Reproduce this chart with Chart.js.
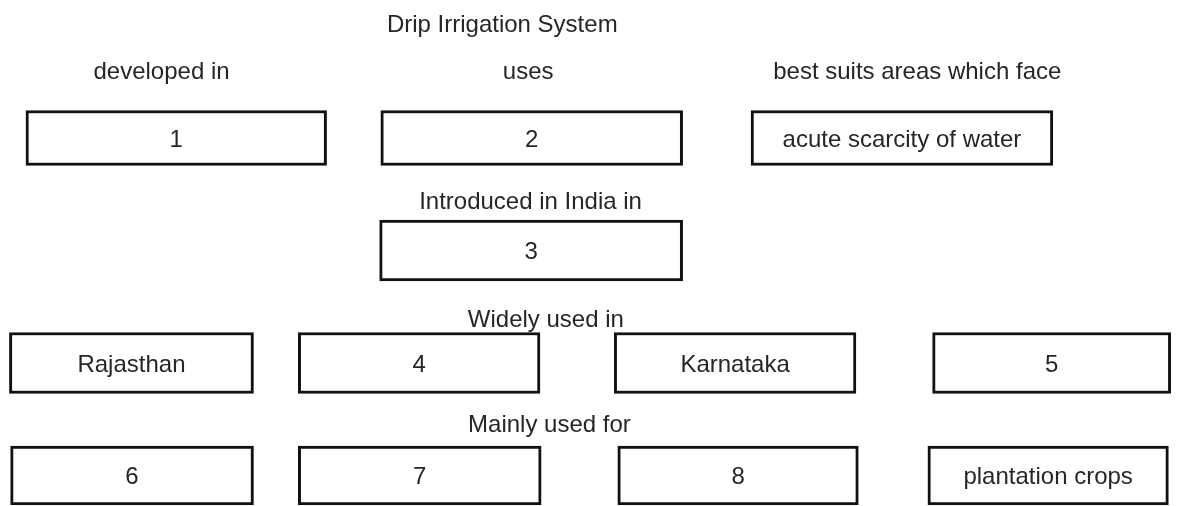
<!DOCTYPE html>
<html>
<head>
<meta charset="utf-8">
<script src="https://cdn.jsdelivr.net/npm/chart.js@4.4.0/dist/chart.umd.min.js"></script>
<style>
  html, body { margin: 0; padding: 0; background: #fff; }
</style>
</head>
<body>
<canvas id="grafico" width="1179" height="506"></canvas>
<script>
// rows of boxes, level 1 = top row
const rowLevels = [1, 2, 3, 4];
const boxLabels = [
  ['1', '2', 'acute scarcity of water'],
  ['3'],
  ['Rajasthan', '4', 'Karnataka', '5'],
  ['6', '7', '8', 'plantation crops']
];
// start / end of each box, in % of the page width
const boxSpans = [
  [[2.2, 27.7], [32.3, 57.9], [63.7, 89.3]],
  [[32.2, 57.9]],
  [[0.8, 21.5], [25.3, 45.8], [52.1, 72.6], [79.1, 99.3]],
  [[0.9, 21.5], [25.3, 45.9], [52.4, 72.8], [78.7, 99.1]]
];
const headerTexts = ['Drip Irrigation System', 'developed in', 'uses', 'best suits areas which face',
  'Introduced in India in', 'Widely used in', 'Mainly used for'];

// where the header texts sit (x in %, y in row levels, baseline)
const headerX = [42.6, 13.7, 44.8, 77.8, 45.0, 46.3, 46.6];
const headerY = [0.058, 0.476, 0.476, 0.476, 1.631, 2.68, 3.613];
const rowHeights = [55, 61, 61, 59];

const FONT = '24px "Liberation Sans", Arial, sans-serif';
const INK = '#262626';

// texts inside the boxes + headers
const textos = {
  id: 'textos',
  afterDatasetsDraw(chart) {
    const ctx = chart.ctx;
    const x = chart.scales.x, y = chart.scales.y;
    ctx.save();
    ctx.font = FONT;
    ctx.fillStyle = INK;
    ctx.textAlign = 'center';
    ctx.textBaseline = 'alphabetic';
    chart.data.datasets.forEach((ds, i) => {
      chart.getDatasetMeta(i).data.forEach((bar, j) => {
        const p = bar.getProps(['x', 'y', 'base'], true);
        ctx.fillText(ds.boxLabels[j], (p.x + p.base) / 2, p.y + 8.5);
      });
    });
    headerTexts.forEach((t, k) => {
      ctx.fillText(t, x.getPixelForValue(headerX[k]), y.getPixelForValue(headerY[k]));
    });
    ctx.restore();
  }
};

const datasets = rowLevels.map((lvl, r) => ({
  data: boxSpans[r].map(s => ({ x: s, y: lvl })),
  boxLabels: boxLabels[r],
  barThickness: rowHeights[r],
  backgroundColor: '#ffffff',
  borderColor: '#111111',
  borderWidth: 3,
  borderSkipped: false
}));

const config = {
  type: 'bar',
  data: { datasets },
  options: {
    indexAxis: 'y',
    responsive: false,
    animation: false,
    layout: { padding: 0 },
    scales: {
      x: { type: 'linear', min: 0, max: 100, offset: false, display: false },
      y: { type: 'linear', min: -0.2267, max: 4.271, reverse: true, stacked: true, offset: false, display: false }
    },
    plugins: { legend: { display: false }, tooltip: { enabled: false } }
  },
  plugins: [textos]
};

const ctx = document.getElementById('grafico').getContext('2d');
const grafico = new Chart(ctx, config);
</script>
</body>
</html>
